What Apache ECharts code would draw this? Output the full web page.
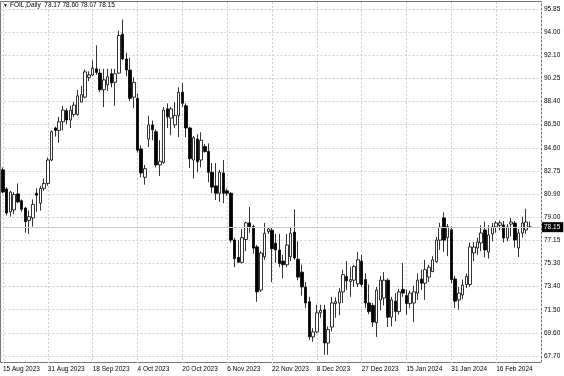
<!DOCTYPE html>
<html>
<head>
<meta charset="utf-8">
<script src="https://cdn.jsdelivr.net/npm/echarts@6/dist/echarts.min.js"></script>
<style>
html,body{margin:0;padding:0;background:#fff;}
#c{width:564px;height:376px;}
</style>
</head>
<body>
<div id="c"></div>
<script>
// ---- data (daily candles, FOIL) ----
const symbolName = 'FOIL';
const periodName = 'Daily';
const dateLabels = ['15 Aug 2023','31 Aug 2023','18 Sep 2023','4 Oct 2023','20 Oct 2023','6 Nov 2023','22 Nov 2023','8 Dec 2023','27 Dec 2023','15 Jan 2024','31 Jan 2024','16 Feb 2024'];
const barsPerLabel = 12;
const priceTicks = ['67.70','69.60','71.50','73.40','75.30','77.15','79.00','80.90','82.75','84.60','86.50','88.40','90.25','92.10','94.00','95.85'];
const yMin = 67.13;
const yMax = 96.42;

const opens = [
82.8,81.25,79.4,79.55,80.85,80.3,79.7,78.7,78.9,80.9,80.1,81.3,81.7,83.6,86.2,86.0,86.7,87.6,86.85,87.3,
87.3,88.3,88.7,90.3,90.5,91.0,90.65,89.3,89.7,90.6,89.9,90.65,93.8,91.8,90.9,88.7,88.6,84.5,82.2,85.3,
86.45,85.9,83.2,83.4,87.75,87.0,86.45,87.2,89.1,88.0,86.2,83.6,85.3,83.6,84.7,84.3,82.6,81.5,80.9,82.55,
81.1,80.9,77.1,75.7,75.3,77.15,78.5,78.2,76.55,73.05,75.75,77.8,77.9,76.85,76.3,75.4,75.1,75.75,77.75,75.55,
74.5,73.3,72.1,69.25,69.65,71.2,71.45,68.75,70.05,71.95,72.0,72.9,74.15,73.75,73.85,73.55,75.4,73.9,72.0,71.8,
70.4,72.25,72.4,73.85,70.85,72.15,71.3,73.1,72.6,71.95,72.0,72.8,73.95,73.6,74.1,74.55,75.35,77.1,78.9,77.3,
77.95,73.95,72.25,72.65,73.5,73.5,76.06,76.46,76.87,77.92,76.14,77.6,78.17,78.3,78.33,77.27,78.4,78.49,76.46,77.68,
77.92,78.17];
const closes = [
81.0,79.3,81.0,80.8,80.2,79.6,78.6,79.0,80.0,80.75,81.3,81.7,83.6,85.9,86.0,86.7,87.65,86.85,87.65,88.05,
88.8,88.9,90.75,90.5,91.05,90.7,89.3,90.1,90.35,89.85,90.6,93.7,91.8,90.9,88.6,89.9,84.4,82.55,82.9,86.45,
86.05,83.2,83.5,87.65,87.1,87.75,87.2,89.1,88.2,86.2,83.7,85.4,83.45,85.2,84.3,82.6,81.4,80.9,82.6,80.9,
80.9,77.1,75.6,75.3,77.3,78.5,78.2,76.45,72.9,76.05,77.65,78.0,76.4,76.3,75.2,75.1,76.7,77.65,75.65,74.1,
73.3,72.0,69.25,69.65,71.2,71.4,68.75,69.85,72.0,72.1,72.9,74.3,73.8,73.9,74.95,75.5,73.5,72.0,71.3,70.45,
73.05,73.85,73.85,70.85,72.25,71.3,72.9,72.8,71.95,72.8,72.9,73.85,73.6,74.7,74.9,75.5,77.1,78.15,77.1,78.2,
73.9,72.15,72.8,73.45,74.15,76.55,76.54,76.95,77.68,76.3,77.52,78.17,78.49,78.5,77.27,78.17,78.57,77.11,77.68,78.49,
78.57,78.15];
const lows = [
80.9,79.1,79.0,79.2,80.1,79.4,77.7,77.6,78.2,79.4,79.5,81.1,81.5,83.5,85.5,85.0,86.0,86.5,86.2,87.1,
87.2,88.3,88.6,90.0,90.4,90.5,89.1,87.9,89.2,89.5,88.0,90.6,91.7,90.4,88.4,87.8,84.2,82.2,81.6,84.65,
85.2,83.0,82.3,83.3,86.2,85.6,86.2,85.45,87.9,85.45,82.95,82.1,82.6,83.0,84.2,81.8,80.9,80.35,80.2,80.1,
80.7,76.9,74.9,75.25,75.2,76.2,77.7,76.0,72.1,72.9,75.5,77.6,73.7,75.25,74.9,74.0,74.9,75.4,75.5,73.85,
72.6,71.6,69.0,68.85,69.55,70.8,67.8,67.8,69.7,70.8,71.0,72.0,73.05,72.5,73.3,73.3,73.3,71.6,71.1,70.05,
69.25,71.4,71.8,70.05,70.1,70.5,71.05,72.5,71.05,71.6,70.45,72.25,73.05,72.25,73.7,74.5,75.25,76.3,76.15,75.8,
73.6,71.6,71.45,72.3,73.2,73.3,75.4,75.9,76.2,75.7,75.6,77.0,77.7,77.9,76.9,77.0,77.4,76.5,75.73,77.3,
77.6,78.07];
const highs = [
83.0,81.4,81.1,81.0,81.7,80.4,79.8,79.5,80.4,81.3,81.5,82.1,83.8,86.0,86.3,87.1,88.0,87.8,88.0,88.3,
89.3,89.6,90.95,90.8,91.7,92.9,91.0,91.0,91.0,91.0,91.0,94.1,95.0,92.3,91.9,90.3,89.0,84.8,83.2,87.2,
86.8,86.1,85.2,87.9,88.2,87.9,88.3,89.5,89.85,88.2,86.3,85.55,85.7,85.85,84.9,84.95,83.35,83.35,82.8,83.6,
81.3,81.0,77.3,77.1,78.0,78.6,79.8,78.35,76.7,76.2,78.5,78.1,78.1,77.6,77.6,75.9,77.6,78.1,79.6,77.0,
75.1,73.7,72.5,69.95,71.85,71.85,71.85,70.1,72.5,72.45,73.2,74.7,75.4,74.9,75.1,76.15,75.9,74.4,73.5,72.0,
73.3,74.2,74.5,74.0,72.5,72.8,73.15,75.25,73.1,73.0,73.4,74.4,74.7,75.5,75.1,75.8,77.35,78.5,79.35,78.4,
78.2,74.2,73.3,73.9,74.4,76.9,76.95,77.3,78.3,78.6,78.3,78.5,78.65,78.7,78.65,78.4,78.9,78.65,78.0,79.0,
79.65,78.60];
const trailingEmptyBars = 3;

// ---- build ----
const barCount = opens.length;
const categories = [];
for (let i = 0; i < barCount + trailingEmptyBars; i++) categories.push(String(i));
const candleData = opens.map((o, i) => [o, closes[i], lows[i], highs[i]]);
const last = barCount - 1;
const fmt = v => v.toFixed(2);
const headerText = symbolName + ',' + periodName + '  ' + fmt(opens[last]) + ' ' + fmt(highs[last]) + ' ' + fmt(lows[last]) + ' ' + fmt(closes[last]);

const FONT = 'Liberation Sans';
const FS = 6.5;
const gridLine = { show: true, lineStyle: { color: '#cfcfcf', type: [2, 2], width: 1 } };

const chart = echarts.init(document.getElementById('c'), null, { renderer: 'canvas' });
chart.setOption({
  animation: false,
  backgroundColor: '#ffffff',
  textStyle: { fontFamily: FONT },
  graphic: [
    { type: 'text', left: 3, top: 3, style: { text: '▼', fontSize: 5, fill: '#000', fontFamily: FONT } },
    { type: 'text', left: 10, top: 2, style: { text: headerText, fontSize: FS, fill: '#000', fontFamily: FONT } }
  ],
  grid: [
    { left: 2.5, right: 23, top: 2, bottom: 13, containLabel: false },
    { left: 0.5, right: 23, top: 9, bottom: 20, containLabel: false },
    { left: 0.5, right: 22.5, top: 1.5, bottom: 13.5, show: true, borderColor: '#777', borderWidth: 1, backgroundColor: 'transparent', containLabel: false }
  ],
  xAxis: [
    {
      gridIndex: 0, type: 'category', data: categories, boundaryGap: false,
      axisLine: { show: false }, axisTick: { show: false },
      splitLine: { show: true, interval: (i) => i % barsPerLabel === 0, lineStyle: { color: '#cfcfcf', type: [2, 2], width: 1 } },
      axisLabel: {
        show: true, interval: 0, margin: 3, align: 'left', fontSize: FS, color: '#000', fontFamily: FONT,
        formatter: (v) => { const k = +v; return (k % barsPerLabel === 0 && dateLabels[k / barsPerLabel]) ? dateLabels[k / barsPerLabel] : ''; }
      }
    },
    { gridIndex: 1, type: 'value', show: false },
    { gridIndex: 2, type: 'value', show: false }
  ],
  yAxis: [
    { gridIndex: 0, type: 'value', min: yMin, max: yMax, show: false, splitLine: { show: false } },
    {
      gridIndex: 1, type: 'category', data: priceTicks, boundaryGap: false, position: 'right',
      axisLine: { show: false }, axisTick: { show: false },
      splitLine: gridLine,
      axisLabel: { show: true, interval: 0, margin: 3, align: 'left', fontSize: FS, color: '#000', fontFamily: FONT }
    },
    { gridIndex: 2, type: 'value', show: false }
  ],
  series: [{
    type: 'candlestick',
    xAxisIndex: 0, yAxisIndex: 0,
    data: candleData,
    barWidth: 3,
    clip: false,
    itemStyle: { color: '#ffffff', color0: '#000000', borderColor: '#000000', borderColor0: '#000000', borderWidth: 0.8 },
    markLine: {
      silent: true, symbol: ['none', 'none'], animation: false,
      data: [{ yAxis: closes[last] }],
      lineStyle: { color: '#c8c8c8', type: 'solid', width: 1 },
      label: { show: true, position: 'end', distance: 1, formatter: (p) => fmt(p.value), backgroundColor: '#000', color: '#fff', fontSize: FS, fontFamily: FONT, padding: [2, 3, 1, 2] }
    }
  }]
});
</script>
</body>
</html>
